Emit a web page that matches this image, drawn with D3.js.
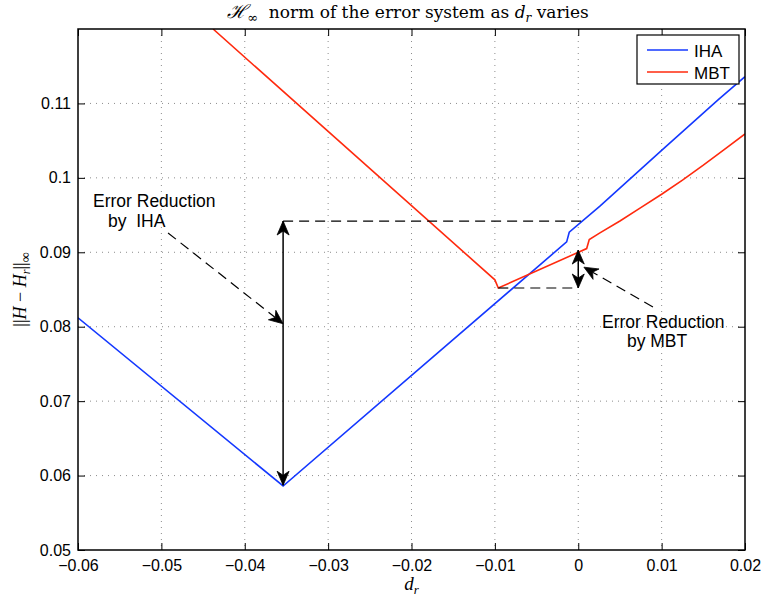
<!DOCTYPE html>
<html><head><meta charset="utf-8">
<script src="https://cdn.jsdelivr.net/npm/d3@7"></script>
<style>body{margin:0;background:#fff} svg{display:block}</style>
</head><body><svg id="c" width="764" height="601"></svg>
<script>
// ---- data ----
const ihaX = [-0.06, -0.0354, -0.00139, -0.00108, 0.0026, 0.01, 0.0168, 0.02];
const ihaY = [0.0812, 0.0586, 0.0914, 0.0927, 0.0962, 0.1037, 0.1105, 0.1136];
const mbtX = [-0.0438, -0.0100, -0.00959, 0.00101, 0.00132, 0.0026, 0.005, 0.0075, 0.01, 0.0125, 0.015, 0.0175, 0.02];
const mbtY = [0.1200, 0.0863, 0.0852, 0.0905, 0.0917, 0.0926, 0.0942, 0.0960, 0.0978, 0.0997, 0.1017, 0.1038, 0.1059];
const xTicks = [-0.06, -0.05, -0.04, -0.03, -0.02, -0.01, 0, 0.01, 0.02];
const xTickLabels = ["\u22120.06","\u22120.05","\u22120.04","\u22120.03","\u22120.02","\u22120.01","0","0.01","0.02"];
const yTicks = [0.05, 0.06, 0.07, 0.08, 0.09, 0.1, 0.11];
const yTickLabels = ["0.05","0.06","0.07","0.08","0.09","0.1","0.11"];
const seriesNames = ["IHA", "MBT"];
// annotation anchors (data coordinates)
const ihaGapX = -0.0354, ihaGapTop = 0.0942, ihaGapBottom = 0.0587;
const mbtGapX = 0, mbtGapTop = 0.0903, mbtGapBottom = 0.0852;
const ihaRefLine = [-0.0354, 0.0005];   // dashed at ihaGapTop
const mbtRefLine = [-0.00959, 0];       // dashed at mbtGapBottom
const ihaPointer = [[-0.0492, 0.0926], [-0.0354, 0.0804]];
const mbtPointer = [[0.00896, 0.08265], [0.00068, 0.0880]];
const ihaLabelLines = ["Error Reduction", "by  IHA"];
const ihaLabelPos = [[-0.0582, 0.09608], [-0.0564, 0.0934]];
const mbtLabelLines = ["Error Reduction", "by MBT"];
const mbtLabelPos = [[0.00285, 0.07983], [0.00584, 0.07727]];

// ---- layout ----
const L = 78, R = 745, T = 29, B = 550;
const BLUE = "#1438ff", RED = "#ff2a0e";
const svg = d3.select("#c");
const x = d3.scaleLinear().domain([-0.06, 0.02]).range([L, R]);
const y = d3.scaleLinear().domain([0.05, 0.12]).range([B, T]);

svg.append("rect").attr("width",764).attr("height",601).attr("fill","#fff");
svg.append("rect").attr("x",L).attr("y",T).attr("width",R-L).attr("height",B-T).attr("fill","#fff");

// grid
const grid = svg.append("g").attr("stroke","#333").attr("stroke-width",0.8)
  .attr("stroke-dasharray","1,5").attr("opacity",0.7);
xTicks.forEach(v => { if (v > -0.06 && v < 0.02) grid.append("line")
  .attr("x1",x(v)).attr("x2",x(v)).attr("y1",T).attr("y2",B); });
yTicks.forEach(v => { if (v > 0.05) grid.append("line")
  .attr("x1",L).attr("x2",R).attr("y1",y(v)).attr("y2",y(v)); });

// clip
svg.append("clipPath").attr("id","clip").append("rect")
  .attr("x",L).attr("y",T).attr("width",R-L).attr("height",B-T);

const line = d3.line().x(d => x(d[0])).y(d => y(d[1]));
const iha = ihaX.map((v,i) => [v, ihaY[i]]);
const mbt = mbtX.map((v,i) => [v, mbtY[i]]);
const plot = svg.append("g").attr("clip-path","url(#clip)");
plot.append("path").datum(iha).attr("d",line).attr("fill","none")
  .attr("stroke",BLUE).attr("stroke-width",1.6);
plot.append("path").datum(mbt).attr("d",line).attr("fill","none")
  .attr("stroke",RED).attr("stroke-width",1.6);

// axes (ticks inward, all four sides)
const tickLen = 7;
const xAxisB = d3.axisBottom(x).tickValues(xTicks).tickFormat((d,i)=>xTickLabels[i])
  .tickSizeInner(-tickLen).tickSizeOuter(0).tickPadding(10);
const xAxisT = d3.axisTop(x).tickValues(xTicks).tickFormat("")
  .tickSizeInner(-tickLen).tickSizeOuter(0);
const yAxisL = d3.axisLeft(y).tickValues(yTicks).tickFormat((d,i)=>yTickLabels[i])
  .tickSizeInner(-tickLen).tickSizeOuter(0).tickPadding(7);
const yAxisR = d3.axisRight(y).tickValues(yTicks).tickFormat("")
  .tickSizeInner(-tickLen).tickSizeOuter(0);
function styleAxis(g){
  g.select(".domain").remove();
  g.selectAll(".tick line").attr("stroke","#000").attr("stroke-width",1);
  g.selectAll(".tick text").attr("fill","#000")
    .style("font-family","'Liberation Sans', Arial, sans-serif").style("font-size","16px");
}
svg.append("g").attr("transform",`translate(0,${B})`).call(xAxisB).call(styleAxis);
svg.append("g").attr("transform",`translate(0,${T})`).call(xAxisT).call(styleAxis);
svg.append("g").attr("transform",`translate(${L},0)`).call(yAxisL).call(styleAxis);
svg.append("g").attr("transform",`translate(${R},0)`).call(yAxisR).call(styleAxis);
svg.append("rect").attr("x",L).attr("y",T).attr("width",R-L).attr("height",B-T)
  .attr("fill","none").attr("stroke","#000").attr("stroke-width",1.5);

// arrowhead helper
function head(g, tip, from){
  const dx = tip[0]-from[0], dy = tip[1]-from[1];
  const len = Math.hypot(dx,dy), ux = dx/len, uy = dy/len, px = -uy, py = ux;
  const Lh = 14, W = 6, notch = 4;
  const bx = tip[0]-ux*Lh, by = tip[1]-uy*Lh;
  const nx = tip[0]-ux*(Lh-notch), ny = tip[1]-uy*(Lh-notch);
  g.append("path").attr("d",
    `M${tip[0]},${tip[1]}L${bx+px*W},${by+py*W}L${nx},${ny}L${bx-px*W},${by-py*W}Z`)
    .attr("fill","#000").attr("stroke","#000").attr("stroke-width",0.8);
}
const ann = svg.append("g");
// dashed reference lines
ann.append("line").attr("x1",x(ihaRefLine[0])).attr("x2",x(ihaRefLine[1]))
  .attr("y1",y(ihaGapTop)).attr("y2",y(ihaGapTop))
  .attr("stroke","#000").attr("stroke-width",1.2).attr("stroke-dasharray","10,6");
ann.append("line").attr("x1",x(mbtRefLine[0])).attr("x2",x(mbtRefLine[1]))
  .attr("y1",y(mbtGapBottom)).attr("y2",y(mbtGapBottom))
  .attr("stroke","#000").attr("stroke-width",1.2).attr("stroke-dasharray","10,6");
// double arrows
function dbl(xv, y1v, y2v){
  const a = [x(xv), y(y1v)], b = [x(xv), y(y2v)];
  ann.append("line").attr("x1",a[0]).attr("x2",b[0]).attr("y1",a[1]).attr("y2",b[1])
    .attr("stroke","#000").attr("stroke-width",1.5);
  head(ann, a, b); head(ann, b, a);
}
dbl(ihaGapX, ihaGapTop, ihaGapBottom);
dbl(mbtGapX, mbtGapTop, mbtGapBottom);
// dashed pointer arrows
function pointer(p){
  const a = [x(p[0][0]), y(p[0][1])], b = [x(p[1][0]), y(p[1][1])];
  const dx=b[0]-a[0], dy=b[1]-a[1], len=Math.hypot(dx,dy);
  const e = [b[0]-dx/len*10, b[1]-dy/len*10];
  ann.append("line").attr("x1",a[0]).attr("y1",a[1]).attr("x2",e[0]).attr("y2",e[1])
    .attr("stroke","#000").attr("stroke-width",1.2).attr("stroke-dasharray","10,6");
  head(ann, b, a);
}
pointer(ihaPointer);
pointer(mbtPointer);
// annotation text
function label(lines, pos){
  lines.forEach((t,i) => ann.append("text").attr("x",x(pos[i][0])).attr("y",y(pos[i][1]))
    .attr("xml:space","preserve").style("white-space","pre")
    .style("font-family","'Liberation Sans', Arial, sans-serif").style("font-size","17.5px")
    .attr("fill","#000").text(t));
}
label(ihaLabelLines, ihaLabelPos);
label(mbtLabelLines, mbtLabelPos);

// legend
const lg = svg.append("g");
lg.append("rect").attr("x",637).attr("y",35).attr("width",102).attr("height",49)
  .attr("fill","#fff").attr("stroke","#000").attr("stroke-width",1.2);
[BLUE, RED].forEach((c,i) => {
  const yy = 50 + i*22;
  lg.append("line").attr("x1",647).attr("x2",688).attr("y1",yy).attr("y2",yy)
    .attr("stroke",c).attr("stroke-width",1.6);
  lg.append("text").attr("x",694).attr("y",yy+6.5).text(seriesNames[i])
    .style("font-family","'Liberation Sans', Arial, sans-serif").style("font-size","17px")
    .attr("fill","#000");
});

// title
const serif = "'DejaVu Serif', 'Liberation Serif', serif";
const title = svg.append("text").attr("x",408).attr("y",18).attr("text-anchor","middle")
  .attr("xml:space","preserve").style("white-space","pre")
  .style("font-family",serif).style("font-size","17px").attr("fill","#000");
title.append("tspan").text("\u210B").style("font-style","italic").style("font-size","19px");
title.append("tspan").text("\u221E").attr("dy",4).style("font-size","13px");
title.append("tspan").text("  norm of the error system as ").attr("dy",-4);
title.append("tspan").text("d").style("font-style","italic");
title.append("tspan").text("r").style("font-style","italic").style("font-size","12px").attr("dy",4);
title.append("tspan").text(" varies").attr("dy",-4);

// x label
const xl = svg.append("text").attr("x",(L+R)/2).attr("y",590).attr("text-anchor","middle")
  .style("font-family","'Liberation Serif', serif").style("font-size","19px").attr("fill","#000");
xl.append("tspan").text("d").style("font-style","italic");
xl.append("tspan").text("r").style("font-style","italic").style("font-size","13px").attr("dy",4);

// y label
const yl = svg.append("text").attr("transform",`translate(26,${(T+B)/2}) rotate(-90)`)
  .attr("text-anchor","middle").attr("xml:space","preserve").style("white-space","pre")
  .style("font-family","'Liberation Serif', serif").style("font-size","18px").attr("fill","#000");
yl.append("tspan").text("||");
yl.append("tspan").text("H").style("font-style","italic");
yl.append("tspan").text(" \u2212 ");
yl.append("tspan").text("H").style("font-style","italic");
yl.append("tspan").text("r").style("font-style","italic").style("font-size","12px").attr("dy",4);
yl.append("tspan").text("||").attr("dy",-4);
yl.append("tspan").text("\u221E").style("font-size","14px").attr("dy",4);
</script></body></html>
